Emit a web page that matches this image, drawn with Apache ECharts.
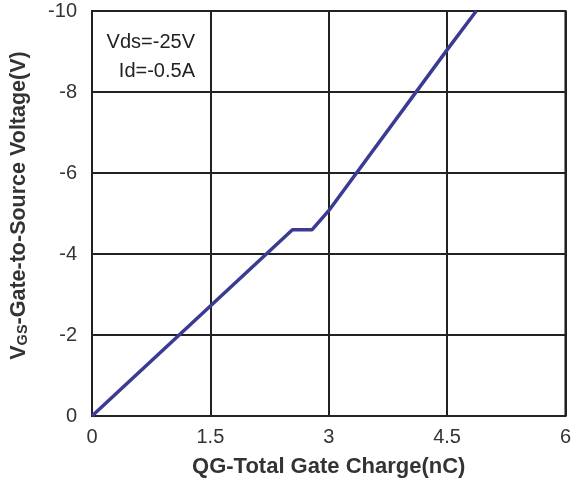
<!DOCTYPE html>
<html><head><meta charset="utf-8">
<script src="https://cdn.jsdelivr.net/npm/echarts@6/dist/echarts.min.js"></script>
<style>html,body{margin:0;padding:0;background:#fff}#c{width:574px;height:488px}</style>
</head><body><div id="c"></div>
<script>
const chargeNC = [0, 2.54, 2.79, 3.0, 4.5, 4.87];
const vgsV = [0, -4.6, -4.6, -5.07, -9.04, -10];
const xTicks = [0, 1.5, 3, 4.5, 6];
const yTicks = [-10, -8, -6, -4, -2, 0];
const noteLines = ['Vds=-25V', 'Id=-0.5A'];

const chart = echarts.init(document.getElementById('c'), null, {renderer: 'canvas'});
const font = 'Liberation Sans, Arial, sans-serif';
chart.setOption({
  animation: false,
  backgroundColor: '#fff',
  grid: {left: 91, right: 6, top: 11, bottom: 72, show: true, borderColor: '#222', borderWidth: 2},
  xAxis: {
    type: 'value', min: xTicks[0], max: xTicks[xTicks.length - 1], interval: 1.5,
    axisLine: {show: true, lineStyle: {color: '#222', width: 2}},
    axisTick: {show: false},
    splitLine: {show: true, lineStyle: {color: '#222', width: 2}},
    axisLabel: {color: '#333', fontSize: 20, fontFamily: font, margin: 11},
    name: 'QG-Total Gate Charge(nC)', nameLocation: 'middle', nameGap: 40,
    nameTextStyle: {color: '#333', fontSize: 22, fontWeight: 'bold', fontFamily: font}
  },
  yAxis: {
    type: 'value', min: yTicks[0], max: yTicks[yTicks.length - 1], interval: 2, inverse: true,
    axisLine: {show: true, lineStyle: {color: '#222', width: 2}},
    axisTick: {show: false},
    splitLine: {show: true, lineStyle: {color: '#222', width: 2}},
    axisLabel: {color: '#333', fontSize: 20, fontFamily: font, margin: 15},
    name: '{v|V}{s|GS}{v|-Gate-to-Source Voltage(V)}', nameLocation: 'middle', nameGap: 62, nameRotate: 90,
    nameTextStyle: {
      color: '#333', fontFamily: font, padding: [0, 0, 0, 16],
      rich: {
        v: {fontSize: 21.5, fontWeight: 'bold', color: '#333', fontFamily: font},
        s: {fontSize: 14.5, fontWeight: 'bold', color: '#333', fontFamily: font, verticalAlign: 'bottom', padding: [5, 0, 0, 0]}
      }
    }
  },
  series: [{
    type: 'line', data: chargeNC.map((x, i) => [x, vgsV[i]]),
    showSymbol: false, lineStyle: {color: '#3c3b94', width: 3.5}, z: 5
  }],
  graphic: noteLines.map((t, i) => ({
    type: 'text', right: 574 - 195, top: 32 + i * 29,
    style: {text: t, fill: '#222', fontSize: 20, fontFamily: font, textAlign: 'right'}
  }))
});
</script></body></html>
